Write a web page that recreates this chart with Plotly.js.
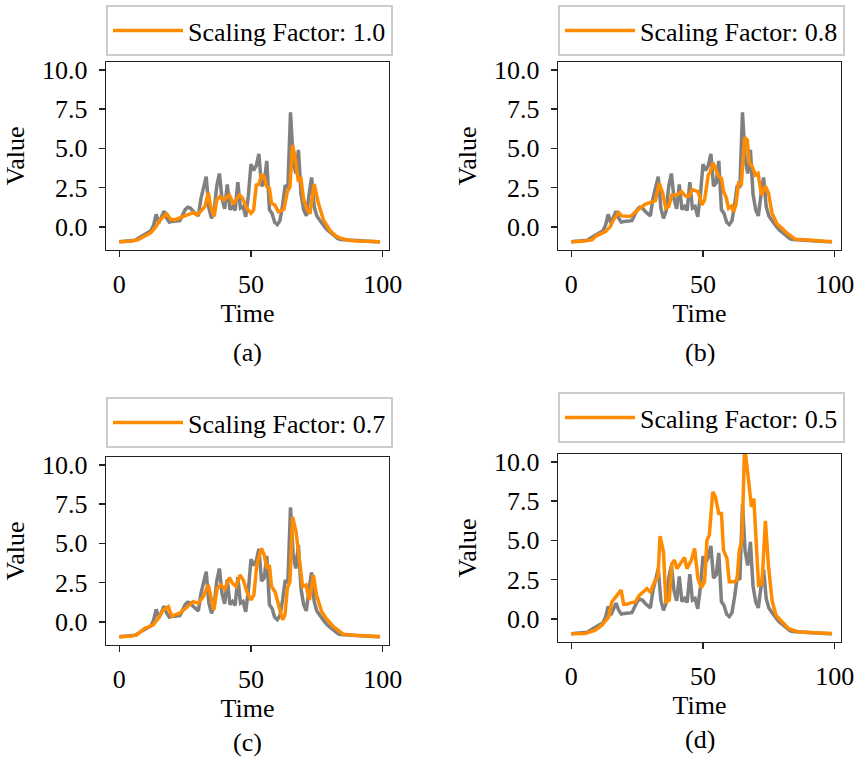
<!DOCTYPE html>
<html>
<head>
<meta charset="utf-8">
<script src="https://cdn.plot.ly/plotly-3.0.1.min.js"></script>
<style>html,body{margin:0;padding:0;background:#fff;}#chart{width:855px;height:758px;}</style>
</head>
<body>
<div id="chart"></div>
<script>
// ---- data ----
const timeGrey  = [0,2,4,6,8,10,12,13,14,15,16,17,18,19,20,21,22,23,24,25,26,27,28,29,30,31,32,33,34,35,36,37,38,39,40,41,42,43,44,45,46,47,48,49,50,51,52,53,54,55,56,57,58,59,60,61,62,63,64,65,66,67,68,69,70,71,72,73,74,75,76,77,78,79,80,81,82,83,84,86,88,90,92,94,96,98,99];
const valueGrey = [-0.95,-0.93,-0.9,-0.85,-0.65,-0.45,-0.25,0.1,0.8,0.25,0.6,1.0,0.55,0.3,0.35,0.35,0.4,0.4,0.75,1.1,1.25,1.2,1.0,0.85,0.7,1.8,2.6,3.2,1.2,0.55,1.0,2.6,3.4,1.8,1.15,2.7,1.1,1.3,1.05,2.85,1.2,1.3,0.65,2.0,4.0,3.6,3.9,4.65,2.6,2.8,4.2,1.1,0.85,0.3,0.15,0.4,1.4,2.65,2.5,7.3,4.3,3.4,4.9,2.1,1.1,0.7,2.0,3.15,1.3,0.7,0.45,0.2,0.0,-0.2,-0.35,-0.5,-0.65,-0.75,-0.8,-0.83,-0.86,-0.88,-0.9,-0.92,-0.93,-0.95,-0.95];

const timeA  = [0,4,7,10,12,13.5,15.5,18,19.5,21,24,28,29.6,31.3,32.5,33.8,34.7,36,37,38.2,39.7,41.8,43.3,44.3,45.6,46.8,48.4,50,51,52,53,54,55,56,57,57.8,59,60.4,62.5,63.8,64.8,65.8,66.7,68,68.9,70,71.4,72.4,74,75.6,77.5,80,82,84,87,90,95,99];
const valueA = [-0.95,-0.92,-0.83,-0.55,-0.36,-0.08,0.45,0.83,0.49,0.45,0.66,0.91,0.76,1.08,1.29,2.18,1.29,0.66,1.72,1.93,1.72,2.03,1.46,1.72,2.03,1.82,1.19,0.87,1.08,2.67,2.73,3.3,3.2,2.56,2.46,1.5,1.4,0.97,1.12,2.25,2.56,5.21,4.47,2.88,3.2,1.72,1.08,0.83,2.73,1.5,0.45,-0.23,-0.55,-0.72,-0.85,-0.89,-0.92,-0.95];

const timeB  = [0,4,7.8,9.7,13,14.8,16,18,19.2,22.4,25.3,28,31.9,33.4,34.7,35.9,37,38.2,40.1,41.8,43.3,44.8,45.8,48.1,49.6,50.6,52,52.8,53.8,55,56,57,57.8,58.7,59.7,60.8,61.6,62.5,63.5,64.6,65.8,66.8,67.6,68.6,69.9,70.9,72.2,73.7,74.9,76.2,78.1,80,81.9,85,89,92.7,96,99];
const valueB = [-0.95,-0.92,-0.83,-0.55,-0.3,0.02,0.45,0.91,0.7,0.66,1.08,1.44,1.67,2.78,2.14,1.19,1.29,2.03,2.03,2.25,1.97,1.97,2.39,2.25,1.4,1.72,3.3,3.52,4.09,3.52,3.2,3.09,2.25,1.93,1.19,1.33,0.97,1.4,2.78,2.73,5.7,5.53,4.05,3.88,3.3,3.41,2.03,2.6,2.14,0.87,0.19,-0.08,-0.4,-0.78,-0.85,-0.87,-0.91,-0.93];

const timeC  = [0,4,6.6,9.7,11.4,12.9,14.8,16.7,18.6,19.9,23,25.6,28,30,31.9,33.8,35,35.9,37.2,38.5,40.1,41.8,43,44.3,45.8,47.1,48.4,50,51.1,52.2,53.2,54,55,56,57,57.8,59.1,60.8,62,62.9,63.8,64.8,65.8,67.1,68.4,69.6,70.9,72.2,73.7,74.9,76.8,78.7,81.3,85,89,92.7,96,99];
const valueC = [-0.95,-0.92,-0.83,-0.4,-0.3,-0.19,0.23,0.76,0.97,0.38,0.55,0.97,1.29,1.19,1.61,2.35,1.5,0.76,2.14,2.35,2.1,2.82,2.46,2.25,2.99,2.67,1.93,1.4,1.72,3.62,4.26,4.68,4.26,3.41,3.62,2.25,1.93,0.76,0.13,0.45,2.14,2.56,6.69,5.74,4.05,2.25,2.35,1.4,2.99,1.72,0.66,0.19,-0.3,-0.78,-0.85,-0.87,-0.91,-0.93];

const timeD  = [0,5.3,9.1,11.6,14.2,15.4,17.3,18.9,19.9,21.1,22.4,24.3,25.8,28.7,30,31.9,32.9,33.7,35,35.9,37.2,38.2,39.2,40.1,41.4,43,43.9,45.6,46.8,48.1,49.4,50.6,51.5,52.4,53.7,54.7,56,57,57.8,59.1,60,61.6,62.9,63.8,64.8,65.8,67.3,68.4,69.3,70.1,71.1,72.4,73.7,74.9,76.2,77.7,80,82.5,86.3,93.9,99];
const valueD = [-0.95,-0.93,-0.72,-0.4,0.13,1.08,1.5,1.83,0.93,0.93,1.02,1.08,1.5,1.93,1.72,2.46,2.67,5.27,4.27,1.08,1.19,3.52,3.74,3.2,3.52,3.91,3.2,3.74,4.48,2.57,1.99,2.36,5.01,5.33,8.09,7.77,6.71,6.71,4.37,3.84,2.36,2.36,2.46,4.37,5.01,11.0,8.83,7.13,7.66,5.01,2.14,2.25,6.24,3.31,1.19,0.23,-0.19,-0.62,-0.83,-0.89,-0.93];

const seriesNames = ["Scaling Factor: 1.0","Scaling Factor: 0.8","Scaling Factor: 0.7","Scaling Factor: 0.5"];
const panelLabels = ["(a)","(b)","(c)","(d)"];
const xTicks = [0,50,100];
const yTicks = [0,2.5,5,7.5,10];

// ---- styling / layout ----
const W = 855, H = 758;
const FONT = "Liberation Serif, Times New Roman, serif";
const GREY = "#808080", ORANGE = "#ff8c00";
const orangeT = [timeA,timeB,timeC,timeD];
const orangeV = [valueA,valueB,valueC,valueD];

// panel pixel boxes [left, right, top, bottom]
const boxes = [[106,389,62,250],[558,841,62,250],[106,389,457,645],[558,841,454,642]];
const legendTop = [5,5,397,392];
const labelY = [352,352,742,739];

const traces = [];
const layout = {
  width: W, height: H,
  margin: {l:0,r:0,t:0,b:0},
  paper_bgcolor: "#fff", plot_bgcolor: "#fff",
  font: {family: FONT, size: 26, color: "#000"},
  showlegend: true,
  annotations: []
};

for (let i = 0; i < 4; i++) {
  const s = i === 0 ? "" : String(i+1);
  const b = boxes[i];
  traces.push({x: timeGrey, y: valueGrey, type: "scatter", mode: "lines",
    line: {color: GREY, width: 3.5}, xaxis: "x"+s, yaxis: "y"+s, showlegend: false, hoverinfo: "skip"});
  traces.push({x: orangeT[i], y: orangeV[i], type: "scatter", mode: "lines", name: seriesNames[i],
    line: {color: ORANGE, width: 3.5}, xaxis: "x"+s, yaxis: "y"+s, legend: "legend"+s});
  const axBase = {showline: true, mirror: true, linecolor: "#222", linewidth: 1.3,
    ticks: "outside", ticklen: 6, tickwidth: 1.3, tickcolor: "#222",
    showgrid: false, zeroline: false, tickfont: {family: FONT, size: 26, color: "#000"}};
  layout["xaxis"+s] = Object.assign({}, axBase, {
    domain: [b[0]/W, b[1]/W], anchor: "y"+s, range: [-5.05, 102.4],
    tickvals: xTicks, ticktext: xTicks.map(String), ticklabelstandoff: 4,
    title: {text: "Time", font: {family: FONT, size: 26, color: "#000"}, standoff: 6}
  });
  layout["yaxis"+s] = Object.assign({}, axBase, {
    domain: [1 - b[3]/H, 1 - b[2]/H], anchor: "x"+s, range: [-1.47, 10.5],
    tickvals: yTicks, ticktext: yTicks.map(v => v.toFixed(1)), ticklabelstandoff: 6,
    title: {text: "Value", font: {family: FONT, size: 26, color: "#000"}, standoff: 10}
  });
  layout["legend"+s] = {
    x: b[0]/W, xanchor: "left", y: 1 - legendTop[i]/H, yanchor: "top",
    bgcolor: "rgba(255,255,255,0.8)", bordercolor: "#cccccc", borderwidth: 2,
    font: {family: FONT, size: 26, color: "#000"}, itemwidth: 70
  };
  layout.annotations.push({text: panelLabels[i], xref: "paper", yref: "paper",
    x: (b[0]+b[1])/2/W, y: 1 - labelY[i]/H, xanchor: "center", yanchor: "middle",
    showarrow: false, font: {family: FONT, size: 26, color: "#000"}});
}

Plotly.newPlot("chart", traces, layout, {staticPlot: true, displayModeBar: false});
</script>
</body>
</html>
